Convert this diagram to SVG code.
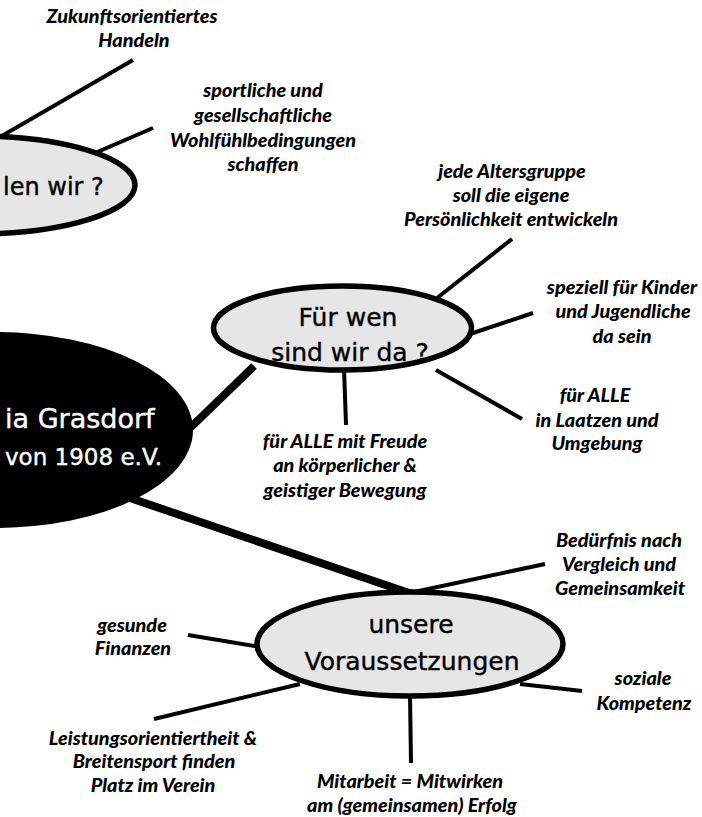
<svg xmlns="http://www.w3.org/2000/svg" width="702" height="817" viewBox="0 0 702 817">
<style>
.lbl{font-family:Lato,"Open Sans","Liberation Sans",sans-serif;font-weight:900;font-style:italic;font-size:19.8px;fill:#000;text-anchor:middle}
.node{fill:#e6e6e6;stroke:#000;stroke-width:5.5}
.ntx{font-family:"DejaVu Sans","Liberation Sans",sans-serif;font-size:25px;fill:#000;stroke:#000;stroke-width:0.4;text-anchor:middle}
.wtx{font-family:"DejaVu Sans","Liberation Sans",sans-serif;fill:#fff;stroke:#fff;stroke-width:0.4}
.thin{stroke:#000;stroke-width:4;fill:none}
.thick{stroke:#000;stroke-width:8;fill:none}
</style>
<rect width="702" height="817" fill="#fff"/>
<g id="connectors">
<line class="thin" x1="133" y1="60" x2="0" y2="137"/>
<line class="thin" x1="153" y1="128" x2="95" y2="153"/>
<line class="thin" x1="512" y1="239" x2="437" y2="298"/>
<line class="thin" x1="533" y1="313" x2="470" y2="334"/>
<line class="thin" x1="522" y1="419" x2="436" y2="370"/>
<line class="thin" x1="344" y1="368" x2="346" y2="425"/>
<line class="thick" x1="190" y1="428" x2="254" y2="366"/>
<line class="thick" x1="130" y1="498" x2="412" y2="594"/>
<line class="thin" x1="414" y1="592" x2="545" y2="564"/>
<line class="thin" x1="188" y1="635" x2="260" y2="647"/>
<line class="thin" x1="520" y1="684" x2="582" y2="691"/>
<line class="thin" x1="154" y1="719" x2="300" y2="684"/>
<line class="thin" x1="410" y1="695" x2="411" y2="763"/>
</g>
<g id="node-wollen">
<ellipse class="node" cx="-25" cy="185" rx="160" ry="49"/>
<text class="ntx" x="3" y="195" style="text-anchor:start;font-size:24px">len wir ?</text>
</g>
<g id="node-verein">
<ellipse cx="-5" cy="430" rx="198" ry="98" fill="#000"/>
<text class="wtx" x="5" y="428" font-size="27">ia Grasdorf</text>
<text class="wtx" x="5" y="465" font-size="23">von 1908 e.V.</text>
</g>
<g id="node-fuerwen">
<ellipse class="node" cx="342.5" cy="328" rx="129" ry="42"/>
<text class="ntx" x="348" y="326">Für wen</text>
<text class="ntx" x="350" y="361">sind wir da ?</text>
</g>
<g id="node-voraussetzungen">
<ellipse class="node" cx="410" cy="644" rx="153" ry="52"/>
<text class="ntx" x="411" y="633">unsere</text>
<text class="ntx" x="412" y="670">Voraussetzungen</text>
</g>
<g id="label-zukunft">
<text class="lbl" x="132" y="23">Zukunftsorientiertes</text>
<text class="lbl" x="134" y="47">Handeln</text>
</g>
<g id="label-sportlich">
<text class="lbl" x="263" y="97">sportliche und</text>
<text class="lbl" x="263" y="122">gesellschaftliche</text>
<text class="lbl" x="263" y="147">Wohlfühlbedingungen</text>
<text class="lbl" x="263" y="171">schaffen</text>
</g>
<g id="label-alter">
<text class="lbl" x="512" y="178">jede Altersgruppe</text>
<text class="lbl" x="511" y="202">soll die eigene</text>
<text class="lbl" x="511" y="226">Persönlichkeit entwickeln</text>
</g>
<g id="label-kinder">
<text class="lbl" x="622" y="294">speziell für Kinder</text>
<text class="lbl" x="623" y="318">und Jugendliche</text>
<text class="lbl" x="622" y="343">da sein</text>
</g>
<g id="label-laatzen">
<text class="lbl" x="595" y="402">für ALLE</text>
<text class="lbl" x="597" y="427">in Laatzen und</text>
<text class="lbl" x="597" y="450">Umgebung</text>
</g>
<g id="label-freude">
<text class="lbl" x="345" y="448">für ALLE mit Freude</text>
<text class="lbl" x="345" y="472">an körperlicher &amp;</text>
<text class="lbl" x="345" y="497">geistiger Bewegung</text>
</g>
<g id="label-beduerfnis">
<text class="lbl" x="619" y="547">Bedürfnis nach</text>
<text class="lbl" x="619" y="571">Vergleich und</text>
<text class="lbl" x="620" y="595">Gemeinsamkeit</text>
</g>
<g id="label-finanzen">
<text class="lbl" x="132" y="632">gesunde</text>
<text class="lbl" x="133" y="655">Finanzen</text>
</g>
<g id="label-sozial">
<text class="lbl" x="643" y="685">soziale</text>
<text class="lbl" x="644" y="710">Kompetenz</text>
</g>
<g id="label-leistung">
<text class="lbl" x="153" y="745">Leistungsorientiertheit &amp;</text>
<text class="lbl" x="154" y="768">Breitensport finden</text>
<text class="lbl" x="153" y="792">Platz im Verein</text>
</g>
<g id="label-mitarbeit">
<text class="lbl" x="410" y="788">Mitarbeit = Mitwirken</text>
<text class="lbl" x="412" y="812">am (gemeinsamen) Erfolg</text>
</g>
</svg>
